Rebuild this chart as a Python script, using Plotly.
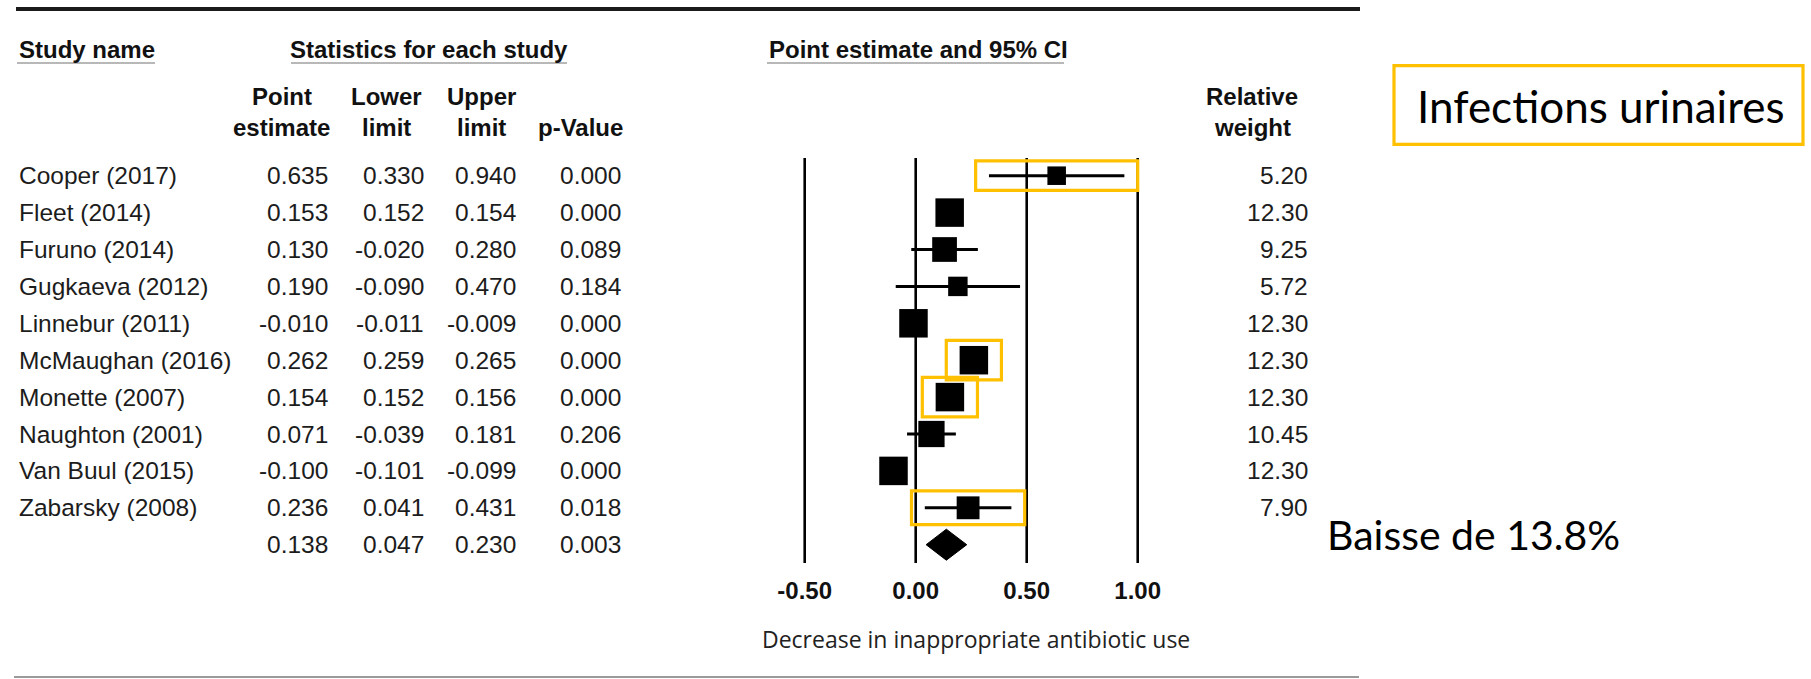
import numpy as np
import plotly.graph_objects as go

# ---- data -------------------------------------------------------------
studies = ["Cooper (2017)", "Fleet (2014)", "Furuno (2014)", "Gugkaeva (2012)",
           "Linnebur (2011)", "McMaughan (2016)", "Monette (2007)",
           "Naughton (2001)", "Van Buul (2015)", "Zabarsky (2008)"]
point = [0.635, 0.153, 0.130, 0.190, -0.010, 0.262, 0.154, 0.071, -0.100, 0.236]
lower = [0.330, 0.152, -0.020, -0.090, -0.011, 0.259, 0.152, -0.039, -0.101, 0.041]
upper = [0.940, 0.154, 0.280, 0.470, -0.009, 0.265, 0.156, 0.181, -0.099, 0.431]
p_value = [0.000, 0.000, 0.089, 0.184, 0.000, 0.000, 0.000, 0.206, 0.000, 0.018]
weight = [5.20, 12.30, 9.25, 5.72, 12.30, 12.30, 12.30, 10.45, 12.30, 7.90]

summary_point = 0.138
summary_lower = 0.047
summary_upper = 0.230
summary_p = 0.003

tick_values = [-0.50, 0.00, 0.50, 1.00]
highlighted = ["Cooper (2017)", "McMaughan (2016)", "Monette (2007)", "Zabarsky (2008)"]

# ---- geometry ---------------------------------------------------------
W, H = 1811, 679
ROW0_PX, ROW_STEP = 175.7, 36.9      # pixel centre of first row, row pitch
X0_PX, X_SCALE = 915.7, 222.0         # pixel of value 0, pixels per unit
BOX_MAX = 28.5                        # square side for the largest weight
YELLOW = "#FFC000"
TABLE_FONT = "Liberation Sans, Arial, sans-serif"
CALLOUT_FONT = "Lato, Carlito, Calibri, sans-serif"


def py(px):
    """paper y fraction from a pixel row measured from the top"""
    return 1 - px / H


def px_x(px):
    return px / W


n = len(studies)
summary_row = n
x_range = [(0 - X0_PX) / X_SCALE, (W - X0_PX) / X_SCALE]
y_range = [(H - ROW0_PX) / ROW_STEP, (0 - ROW0_PX) / ROW_STEP]

wmax = max(weight)
sizes = [BOX_MAX * np.sqrt(w / wmax) for w in weight]

fig = go.Figure()

# confidence interval whiskers
for i in range(n):
    fig.add_trace(go.Scatter(
        x=[lower[i], upper[i]], y=[i, i], mode="lines",
        line=dict(color="black", width=3), hoverinfo="skip", showlegend=False))

# study squares (area proportional to weight)
fig.add_trace(go.Scatter(
    x=point, y=list(range(n)), mode="markers", opacity=1,
    marker=dict(symbol="square", size=sizes, color="black", opacity=1,
                line=dict(width=0)),
    showlegend=False, hoverinfo="skip"))

# pooled estimate diamond
dh = 15.5 / ROW_STEP
fig.add_trace(go.Scatter(
    x=[summary_lower, summary_point, summary_upper, summary_point, summary_lower],
    y=[summary_row, summary_row - dh, summary_row, summary_row + dh, summary_row],
    mode="lines", fill="toself", fillcolor="black",
    line=dict(color="black", width=1), showlegend=False, hoverinfo="skip"))

shapes = []
# vertical reference lines
for v in tick_values:
    shapes.append(dict(type="line", xref="x", yref="paper", x0=v, x1=v,
                       y0=py(158), y1=py(563), line=dict(color="black", width=2.6)))

# highlight frames around selected studies
pad = 0.06
for name in highlighted:
    i = studies.index(name)
    half = sizes[i] / 2
    lo = min(lower[i], point[i] - half / X_SCALE) - pad
    hi = max(upper[i], point[i] + half / X_SCALE) + pad
    hh = (half + 5.5) / ROW_STEP
    shapes.append(dict(type="rect", xref="x", yref="y", x0=lo, x1=hi,
                       y0=i - hh, y1=i + hh, line=dict(color=YELLOW, width=3.2),
                       fillcolor="rgba(0,0,0,0)", layer="above"))

# rules
shapes.append(dict(type="line", xref="paper", yref="paper", x0=px_x(16), x1=px_x(1360),
                   y0=py(9), y1=py(9), line=dict(color="#1a1a1a", width=4)))
shapes.append(dict(type="line", xref="paper", yref="paper", x0=px_x(14), x1=px_x(1359),
                   y0=py(677), y1=py(677), line=dict(color="#9a9a9a", width=2)))
for a, b in [(17, 155), (291, 567), (767, 1064)]:
    shapes.append(dict(type="line", xref="paper", yref="paper", x0=px_x(a), x1=px_x(b),
                       y0=py(63), y1=py(63), line=dict(color="#a0a0a0", width=1.5)))

# callout frame
shapes.append(dict(type="rect", xref="paper", yref="paper", x0=px_x(1394), x1=px_x(1803),
                   y0=py(144.3), y1=py(65.7), line=dict(color=YELLOW, width=3.2)))

ann = []


def text(x, y, s, anchor="left", size=24.5, bold=False, color="#1c1c1c",
         family=TABLE_FONT, yref="paper"):
    ann.append(dict(x=px_x(x), y=y, xref="paper", yref=yref, text=f"<b>{s}</b>" if bold else s,
                    showarrow=False, xanchor=anchor, yanchor="middle",
                    font=dict(family=family, size=size, color=color)))


# header
text(17, py(50), "Study name", bold=True, size=24, color="#111")
text(429, py(50), "Statistics for each study", anchor="center", bold=True, size=24, color="#111")
text(767, py(50), "Point estimate and 95% CI", bold=True, size=24, color="#111")
for cx, l1, l2 in [(281.5, "Point", "estimate"), (386, "Lower", "limit"),
                   (481, "Upper", "limit"), (1252, "Relative", "weight")]:
    text(cx, py(97), l1, anchor="center", bold=True, size=24, color="#111")
    text(cx, py(127), l2, anchor="center", bold=True, size=24, color="#111")
text(580, py(127), "p-Value", anchor="center", bold=True, size=24, color="#111")

# per-study rows
for i in range(n):
    text(17, i, studies[i], yref="y")
    text(330, i, f"{point[i]:.3f}", anchor="right", yref="y")
    text(426, i, f"{lower[i]:.3f}", anchor="right", yref="y")
    text(518, i, f"{upper[i]:.3f}", anchor="right", yref="y")
    text(623, i, f"{p_value[i]:.3f}", anchor="right", yref="y")
    text(1310, i, f"{weight[i]:.2f}", anchor="right", yref="y")

# pooled row
text(330, summary_row, f"{summary_point:.3f}", anchor="right", yref="y")
text(426, summary_row, f"{summary_lower:.3f}", anchor="right", yref="y")
text(518, summary_row, f"{summary_upper:.3f}", anchor="right", yref="y")
text(623, summary_row, f"{summary_p:.3f}", anchor="right", yref="y")

# axis caption
text(976, py(639), "Decrease in inappropriate antibiotic use", anchor="center",
     size=23, color="#222", family="Open Sans, Noto Sans, sans-serif")

# callouts
text(1415, py(106), "Infections urinaires", size=44, color="#000", family=CALLOUT_FONT)
text(1325, py(534), f"Baisse de {summary_point * 100:.1f}%", size=41, color="#000",
     family=CALLOUT_FONT)

fig.update_layout(
    width=W, height=H, margin=dict(l=0, r=0, t=0, b=0),
    paper_bgcolor="white", plot_bgcolor="white",
    shapes=shapes, annotations=ann,
    xaxis=dict(domain=[0, 1], range=x_range, anchor="free", position=py(563),
               showgrid=False, zeroline=False, showline=False, ticks="",
               tickvals=tick_values, ticktext=[f"<b>{v:.2f}</b>" for v in tick_values],
               tickfont=dict(family=TABLE_FONT, size=24, color="#111"),
               ticklabelstandoff=11, fixedrange=True),
    yaxis=dict(domain=[0, 1], range=y_range, showgrid=False, zeroline=False,
               showline=False, showticklabels=False, ticks="", fixedrange=True),
)

fig.write_html("out.html")
